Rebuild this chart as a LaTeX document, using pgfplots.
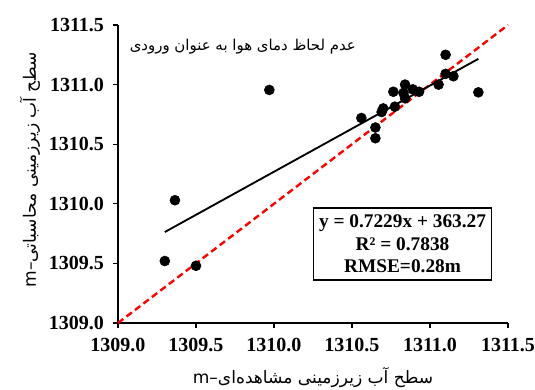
\documentclass[border=0pt]{standalone}
\usepackage{fontspec}
\setmainfont{Liberation Serif}
\newfontfamily\arabicfont[Script=Arabic]{DejaVu Sans}
\TeXXeTstate=1
\usepackage{pgfplots}
\pgfplotsset{compat=1.18}
\begin{document}
\begin{tikzpicture}
\useasboundingbox (-88.5pt,-49.5pt) rectangle (312.75pt,242.25pt);
\begin{axis}[
  scale only axis,
  width=292.5pt, height=223.5pt,
  xmin=1309, xmax=1311.5, ymin=1309, ymax=1311.5,
  xtick={1309,1309.5,...,1311.5},
  ytick={1309,1309.5,...,1311.5},
  axis lines*=left,
  axis line style={line width=1.1pt, black},
  tick align=outside,
  major tick length=4pt,
  tick style={line width=0.9pt, black},
  /pgf/number format/assume math mode=true,
  /pgf/number format/.cd, fixed, fixed zerofill, precision=1, 1000 sep={},
  /pgfplots/.cd,
  ticklabel style={font=\bfseries\fontsize{15}{17}\selectfont},
  xticklabel style={yshift=-4pt},
  yticklabel style={xshift=-3pt},
  xlabel={\arabicfont\beginR سطح آب زیرزمینی مشاهده‌ای–m\endR},
  ylabel={\arabicfont\beginR سطح آب زیرزمینی محاسباتی–m\endR},
  label style={font=\fontsize{12.8}{14}\selectfont},
  xlabel style={at={(axis description cs:0.5,-0.1846)}, anchor=center},
  ylabel style={at={(axis description cs:-0.2256,0.513)}, anchor=center},
  clip=false,
]
\addplot[red, line width=1.8pt, dash pattern=on 5pt off 3pt] coordinates {(1309,1309) (1311.5,1311.5)};
\addplot[black, line width=1.4pt] coordinates {(1309.3,1309.763) (1311.31,1311.216)};
\addplot[only marks, mark=*, mark size=3.75pt, black] coordinates {
(1309.30,1309.52)
(1309.365,1310.03)
(1309.50,1309.48)
(1309.97,1310.955)
(1311.10,1311.25)
(1311.31,1310.935)
(1311.10,1311.09)
(1311.15,1311.07)
(1311.055,1311.00)
(1310.84,1311.00)
(1310.765,1310.94)
(1310.89,1310.96)
(1310.93,1310.94)
(1310.84,1310.885)
(1310.83,1310.93)
(1310.775,1310.815)
(1310.70,1310.80)
(1310.69,1310.77)
(1310.56,1310.72)
(1310.65,1310.64)
(1310.65,1310.55)
};
\node[font=\arabicfont\fontsize{11.2}{13}\selectfont] at (axis cs:1309.80,1311.315) {\beginR عدم لحاظ دمای هوا به عنوان ورودی\endR};
\node[draw=black, line width=0.8pt, fill=white, minimum width=134pt, minimum height=54pt, align=center, font=\bfseries\fontsize{14.5}{17}\selectfont, inner sep=2pt] at (axis cs:1310.824,1309.663) {y = 0.7229x + 363.27\\R² = 0.7838\\RMSE=0.28m};
\end{axis}
\end{tikzpicture}
\end{document}
